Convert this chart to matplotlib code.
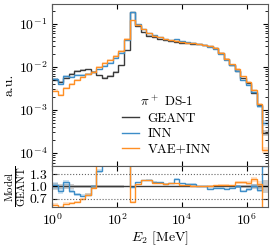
import numpy as np
import matplotlib
matplotlib.use("Agg")
import matplotlib.pyplot as plt

plt.rcParams["mathtext.fontset"] = "cm"
plt.rcParams["font.family"] = ["cmr10", "DejaVu Serif"]
plt.rcParams["axes.formatter.use_mathtext"] = True
plt.rcParams["font.size"] = 10

# log10 of the bin edges in MeV (39 bins)
log_edge_min = 0.0
log_edge_max = 6.65
n_bins = 39

geant = [4.99e-3, 4.48e-3, 5.55e-3, 6.7e-3, 8.07e-3, 8.5e-3, 8.75e-3, 7.78e-3,
         6.34e-3, 5.55e-3, 6.18e-3, 7.65e-3, 1.08e-2, 2.45e-2, 0.19, 0.0913,
         0.0652, 0.0532, 0.0486, 0.0448, 0.0413, 0.0392, 0.0375, 0.0365,
         0.0356, 0.0343, 0.0334, 0.0321, 0.0303, 0.0272, 0.0208, 0.0151,
         0.0111, 8.2e-3, 5.46e-3, 4.18e-3, 2.52e-3, 1.31e-3, 2.92e-4]

inn = [5.14e-3, 3.99e-3, 6.1e-3, 5.96e-3, 6.54e-3, 6.63e-3, 7.0e-3, 7.78e-3,
       8.75e-3, 1.05e-2, 1.24e-2, 1.61e-2, 2.16e-2, 4.29e-2, 0.186, 0.1004,
       0.075, 0.0617, 0.0539, 0.0493, 0.0438, 0.0423, 0.0443, 0.0394,
       0.0377, 0.0364, 0.0334, 0.0321, 0.0288, 0.0264, 0.0202, 0.0143,
       0.0108, 8.2e-3, 4.86e-3, 3.89e-3, 2.57e-3, 1.21e-3, 4.96e-4]

vae_inn = [2.79e-3, 2.24e-3, 3.22e-3, 4.02e-3, 5.08e-3, 5.95e-3, 7.0e-3, 7.55e-3,
           1.01e-2, 1.22e-2, 1.48e-2, 1.84e-2, 2.38e-2, 4.56e-2, 0.12, 0.0959,
           0.075, 0.0612, 0.053, 0.0484, 0.0438, 0.0423, 0.0405, 0.0376,
           0.0367, 0.035, 0.0334, 0.0321, 0.0309, 0.028, 0.0214, 0.0156,
           0.0114, 9.0e-3, 6.0e-3, 4.51e-3, 2.95e-3, 1.39e-3, 1.17e-4]

# relative uncertainty per bin, used for the shaded bands
rel_err = [0.08, 0.07, 0.06, 0.05, 0.04, 0.04, 0.04, 0.04, 0.04, 0.04, 0.04,
           0.04, 0.03, 0.02, 0.01, 0.015, 0.015, 0.015, 0.015, 0.015, 0.015,
           0.015, 0.015, 0.015, 0.015, 0.015, 0.015, 0.015, 0.015, 0.015,
           0.02, 0.02, 0.02, 0.03, 0.03, 0.04, 0.05, 0.06, 0.15]

edges = np.logspace(log_edge_min, log_edge_max, n_bins + 1)
geant = np.array(geant)
err = np.array(rel_err)

series = [("GEANT", geant, "#3a3a3a"),
          ("INN", np.array(inn), "#3c8dc8"),
          ("VAE+INN", np.array(vae_inn), "#ff8f24")]

fig = plt.figure(figsize=(2.74, 2.47), dpi=100)
ax = fig.add_axes([0.19, 0.328, 0.788, 0.656])
rax = fig.add_axes([0.19, 0.162, 0.788, 0.166], sharex=ax)

for name, vals, col in series:
    ax.stairs(vals * (1 + err), edges, baseline=vals * (1 - err), fill=True,
              color=col, alpha=0.25, lw=0)
    ax.stairs(vals, edges, baseline=None, color=col, lw=1.0, label=name)
    ratio = vals / geant
    rax.stairs(ratio * (1 + err), edges, baseline=ratio * (1 - err), fill=True,
               color=col, alpha=0.25, lw=0)
    rax.stairs(ratio, edges, baseline=None, color=col, lw=1.0)

ax.set_xscale("log")
ax.set_yscale("log")
ax.set_xlim(edges[0], edges[-1])
ax.set_ylim(5e-5, 0.29)
ax.set_ylabel("a.u.", labelpad=2)
ax.tick_params(which="both", direction="in", top=True, right=True,
               labelbottom=False)
ax.legend(title=r"$\pi^+$ DS-1", loc="lower left", bbox_to_anchor=(0.27, -0.01),
          frameon=False, handlelength=1.3, handletextpad=0.6,
          labelspacing=0.25, fontsize=9.5, title_fontsize=9.5)

rax.axhline(1.3, color="0.4", ls=":", lw=0.8)
rax.axhline(0.7, color="0.4", ls=":", lw=0.8)
rax.set_ylim(0.5, 1.5)
rax.set_yticks([0.7, 1.0, 1.3])
rax.set_yticklabels(["0.7", "1.0", "1.3"])
rax.set_xticks([1, 1e2, 1e4, 1e6])
rax.xaxis.set_minor_locator(matplotlib.ticker.NullLocator())
rax.tick_params(which="both", direction="in", top=True, right=True)
rax.set_ylabel(r"$\frac{\mathrm{Model}}{\mathrm{GEANT}}$", labelpad=1,
               fontsize=11)
rax.set_xlabel(r"$E_2$ [MeV]", labelpad=1)

for a in (ax, rax):
    for s in a.spines.values():
        s.set_color("0.35")

fig.savefig("out.png", dpi=100)
